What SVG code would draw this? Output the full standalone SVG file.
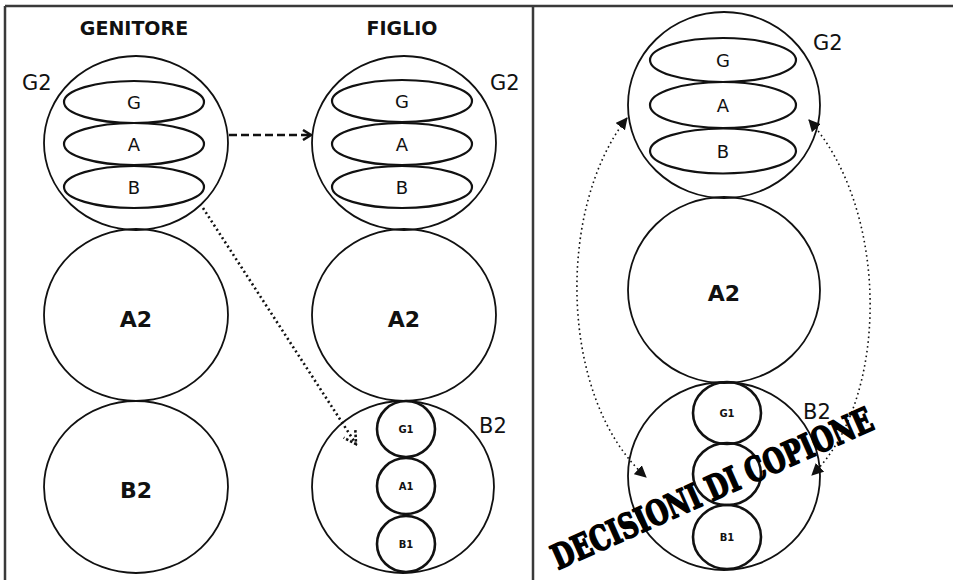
<svg xmlns="http://www.w3.org/2000/svg" width="953" height="580" viewBox="0 0 953 580">
<style>
.frame{stroke:#3a3a3a;stroke-width:2.5;fill:none}
.big{fill:none;stroke:#111;stroke-width:1.8}
.ell{fill:none;stroke:#111;stroke-width:2.2}
.small{fill:none;stroke:#111;stroke-width:2.6}
.hdr{font-family:"DejaVu Sans",sans-serif;font-weight:bold;font-size:19px;fill:#111;text-anchor:middle}
.lbl{font-family:"DejaVu Sans",sans-serif;font-size:21px;fill:#111}
.in{font-family:"DejaVu Sans",sans-serif;font-size:18px;fill:#111;text-anchor:middle}
.bl{font-family:"DejaVu Sans",sans-serif;font-weight:bold;font-size:22px;fill:#111;text-anchor:middle}
.tiny{font-family:"DejaVu Sans",sans-serif;font-weight:bold;font-size:10px;fill:#111;text-anchor:middle}
.stamp{font-family:"DejaVu Serif Condensed","DejaVu Serif",serif;font-weight:900;font-size:34px;fill:#000;stroke:#000;stroke-width:1.6;stroke-linejoin:round}
</style>
<defs>
<marker id="open" viewBox="0 0 12 12" refX="10" refY="6" markerWidth="12" markerHeight="12" markerUnits="userSpaceOnUse" orient="auto">
<path d="M2,1 L10,6 L2,11" fill="none" stroke="#111" stroke-width="2.5"/>
</marker>
<marker id="openDot" viewBox="0 0 16 16" refX="14" refY="8" markerWidth="16" markerHeight="16" markerUnits="userSpaceOnUse" orient="auto">
<path d="M2,1 L14,8 L2,15" fill="none" stroke="#111" stroke-width="2.6" stroke-dasharray="2.5 2"/>
</marker>
<marker id="tri" viewBox="0 0 12 12" refX="11" refY="6" markerWidth="12" markerHeight="12" markerUnits="userSpaceOnUse" orient="auto-start-reverse">
<path d="M0,0 L12,6 L0,12 Z" fill="#111"/>
</marker>
</defs>

<g id="frame">
<line class="frame" x1="5" y1="6" x2="953" y2="6"/>
<line class="frame" x1="5" y1="6" x2="5" y2="580"/>
<line class="frame" x1="533" y1="6" x2="533" y2="580"/>
</g>

<text class="hdr" x="134" y="35">GENITORE</text>
<text class="hdr" x="402" y="35">FIGLIO</text>

<g id="parent-G2">
<ellipse class="big" cx="136" cy="143" rx="92" ry="87"/>
<ellipse class="ell" cx="134" cy="102" rx="70" ry="21"/>
<ellipse class="ell" cx="134" cy="144" rx="70" ry="21"/>
<ellipse class="ell" cx="134" cy="187" rx="70" ry="21"/>
<text class="in" x="134" y="109">G</text>
<text class="in" x="134" y="151">A</text>
<text class="in" x="134" y="194">B</text>
<text class="lbl" x="22" y="90">G2</text>
</g>
<g id="parent-A2">
<ellipse class="big" cx="136" cy="315" rx="92" ry="86"/>
<text class="bl" x="136" y="327">A2</text>
</g>
<g id="parent-B2">
<ellipse class="big" cx="136" cy="487" rx="92" ry="86"/>
<text class="bl" x="136" y="498">B2</text>
</g>

<g id="child-G2">
<ellipse class="big" cx="404" cy="143" rx="92" ry="87"/>
<ellipse class="ell" cx="402" cy="101" rx="70" ry="21"/>
<ellipse class="ell" cx="402" cy="144" rx="70" ry="21"/>
<ellipse class="ell" cx="402" cy="187" rx="70" ry="21"/>
<text class="in" x="402" y="108">G</text>
<text class="in" x="402" y="151">A</text>
<text class="in" x="402" y="194">B</text>
<text class="lbl" x="490" y="90">G2</text>
</g>
<g id="child-A2">
<ellipse class="big" cx="404" cy="315" rx="92" ry="86"/>
<text class="bl" x="404" y="327">A2</text>
</g>
<g id="child-B2">
<ellipse class="big" cx="403" cy="487" rx="91" ry="86"/>
<ellipse class="small" cx="406" cy="429" rx="29" ry="28"/>
<ellipse class="small" cx="406" cy="486" rx="29" ry="28"/>
<ellipse class="small" cx="406" cy="544" rx="29" ry="28"/>
<text class="tiny" x="406" y="433">G1</text>
<text class="tiny" x="406" y="490">A1</text>
<text class="tiny" x="406" y="548">B1</text>
<text class="lbl" x="479" y="433">B2</text>
</g>

<g id="right-G2">
<ellipse class="big" cx="724" cy="105" rx="96" ry="93"/>
<ellipse class="ell" cx="723" cy="60" rx="73" ry="22"/>
<ellipse class="ell" cx="723" cy="105" rx="73" ry="23"/>
<ellipse class="ell" cx="723" cy="151" rx="73" ry="22.5"/>
<text class="in" x="723" y="67">G</text>
<text class="in" x="723" y="112">A</text>
<text class="in" x="723" y="158">B</text>
<text class="lbl" x="813" y="50">G2</text>
</g>
<g id="right-A2">
<ellipse class="big" cx="724" cy="290" rx="96" ry="93"/>
<text class="bl" x="724" y="301">A2</text>
</g>
<g id="right-B2">
<ellipse class="big" cx="724" cy="476" rx="96" ry="94"/>
<ellipse class="small" cx="727" cy="413" rx="34" ry="31"/>
<ellipse class="small" cx="727" cy="474" rx="34" ry="31"/>
<ellipse class="small" cx="727" cy="537" rx="34" ry="32"/>
<text class="tiny" x="727" y="417">G1</text>
<text class="tiny" x="727" y="541">B1</text>
<text class="lbl" x="803" y="419">B2</text>
</g>

<g id="connectors">
<line x1="229" y1="135" x2="311" y2="135" stroke="#111" stroke-width="2.6" stroke-dasharray="8 4" marker-end="url(#open)"/>
<line x1="203" y1="208" x2="356" y2="444" stroke="#111" stroke-width="2.6" stroke-dasharray="2 3" marker-end="url(#openDot)"/>
<path d="M627,118 C555,210 560,400 646,477" fill="none" stroke="#111" stroke-width="1.6" stroke-dasharray="1.6 3.2" marker-start="url(#tri)" marker-end="url(#tri)"/>
<path d="M809,120 C890,210 890,400 812,475" fill="none" stroke="#111" stroke-width="1.6" stroke-dasharray="1.6 3.2" marker-start="url(#tri)" marker-end="url(#tri)"/>
</g>

<text class="stamp" transform="translate(558,570) rotate(-24)" textLength="348" lengthAdjust="spacingAndGlyphs">DECISIONI DI COPIONE</text>
</svg>
